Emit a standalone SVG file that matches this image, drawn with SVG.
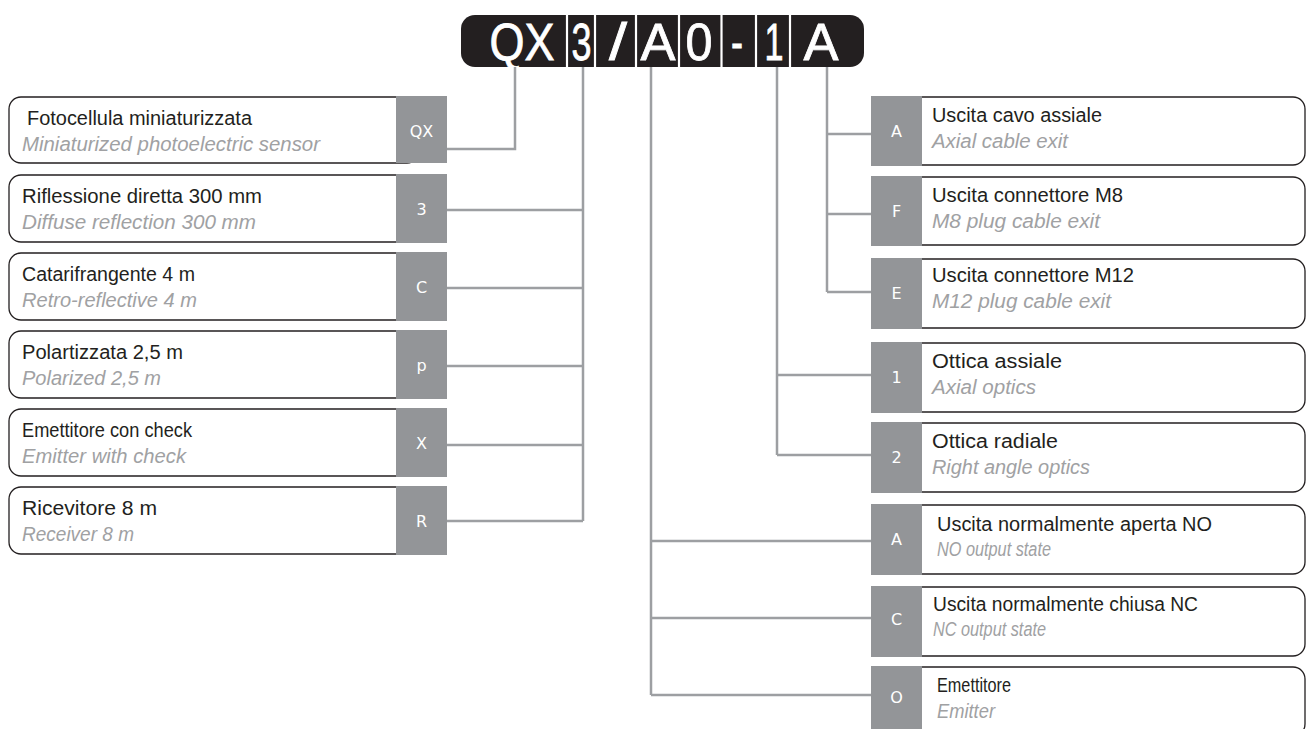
<svg xmlns="http://www.w3.org/2000/svg" width="1306" height="729" viewBox="0 0 1306 729">
<style>
.bg{fill:#ffffff}
.box{fill:#ffffff;stroke:#231f20;stroke-width:1.3}
.sq{fill:#939598}
.sqt{fill:#ffffff;font-family:"DejaVu Sans",sans-serif;font-size:16px;text-anchor:middle}
.t{fill:#231f20;font-family:"Liberation Sans",Arial,sans-serif;font-size:19.5px}
.s{fill:#a0a1a3;font-family:"Liberation Sans",Arial,sans-serif;font-size:19.5px;font-style:italic}
.ln{fill:none;stroke:#9d9fa2;stroke-width:2.5}
.code{fill:#ffffff;stroke:#ffffff;stroke-width:0.8;font-family:"Liberation Sans",Arial,sans-serif;font-size:51px;text-anchor:middle}
.sep{stroke:#ffffff;stroke-width:2.2}
</style>
<rect class="bg" x="0" y="0" width="1306" height="729"/>

<g id="code">
<rect x="461" y="15" width="403" height="52" rx="14" fill="#231f20"/>
<line class="sep" x1="567" y1="15" x2="567" y2="67"/>
<line class="sep" x1="595" y1="15" x2="595" y2="67"/>
<line class="sep" x1="636" y1="15" x2="636" y2="67"/>
<line class="sep" x1="679" y1="15" x2="679" y2="67"/>
<line class="sep" x1="721.5" y1="15" x2="721.5" y2="67"/>
<line class="sep" x1="756" y1="15" x2="756" y2="67"/>
<line class="sep" x1="790" y1="15" x2="790" y2="67"/>
<text class="code" x="522" y="60" textLength="65" lengthAdjust="spacingAndGlyphs">QX</text>
<text class="code" x="581.5" y="60" textLength="20" lengthAdjust="spacingAndGlyphs">3</text>
<text class="code" x="618" y="60" textLength="18" lengthAdjust="spacingAndGlyphs">/</text>
<text class="code" x="658" y="60" textLength="35" lengthAdjust="spacingAndGlyphs">A</text>
<text class="code" x="699" y="60" textLength="27" lengthAdjust="spacingAndGlyphs">0</text>
<text class="code" x="737" y="60" textLength="12" lengthAdjust="spacingAndGlyphs">-</text>
<text class="code" x="774" y="60" textLength="19" lengthAdjust="spacingAndGlyphs">1</text>
<text class="code" x="821" y="60" textLength="35" lengthAdjust="spacingAndGlyphs">A</text>
</g>

<g id="connectors">
<path class="ln" d="M447 149H515V67"/>
<path class="ln" d="M583 67V521"/>
<path class="ln" d="M447 210H583M447 288H583M447 366H583M447 445H583M447 521H583"/>
<path class="ln" d="M651 67V695"/>
<path class="ln" d="M651 541H871M651 618H871M651 695H871"/>
<path class="ln" d="M777 67V455"/>
<path class="ln" d="M777 375H871M777 455H871"/>
<path class="ln" d="M827 67V292"/>
<path class="ln" d="M827 134H871M827 214H871M827 292H871"/>
</g>

<g id="n-qx">
<rect class="box" x="9" y="97" width="410" height="66" rx="12"/>
<rect class="sq" x="396" y="96" width="51" height="67"/>
<text class="sqt" x="421.5" y="137">QX</text>
<text class="t" x="27" y="125" textLength="225" lengthAdjust="spacingAndGlyphs">Fotocellula miniaturizzata</text>
<text class="s" x="22" y="151" textLength="298" lengthAdjust="spacingAndGlyphs">Miniaturized photoelectric sensor</text>
</g>
<g id="n-3">
<rect class="box" x="9" y="175" width="410" height="67" rx="12"/>
<rect class="sq" x="396" y="174" width="51" height="69"/>
<text class="sqt" x="421.5" y="215">3</text>
<text class="t" x="22" y="203" textLength="240" lengthAdjust="spacingAndGlyphs">Riflessione diretta 300 mm</text>
<text class="s" x="22" y="229" textLength="234" lengthAdjust="spacingAndGlyphs">Diffuse reflection 300 mm</text>
</g>
<g id="n-c">
<rect class="box" x="9" y="253" width="410" height="67" rx="12"/>
<rect class="sq" x="396" y="252" width="51" height="69"/>
<text class="sqt" x="421.5" y="293">C</text>
<text class="t" x="22" y="281" textLength="173" lengthAdjust="spacingAndGlyphs">Catarifrangente 4 m</text>
<text class="s" x="22" y="307" textLength="175" lengthAdjust="spacingAndGlyphs">Retro-reflective 4 m</text>
</g>
<g id="n-p">
<rect class="box" x="9" y="331" width="410" height="67" rx="12"/>
<rect class="sq" x="396" y="330" width="51" height="69"/>
<text class="sqt" x="421.5" y="371">p</text>
<text class="t" x="22" y="359" textLength="161" lengthAdjust="spacingAndGlyphs">Polartizzata 2,5 m</text>
<text class="s" x="22" y="385" textLength="139" lengthAdjust="spacingAndGlyphs">Polarized 2,5 m</text>
</g>
<g id="n-x">
<rect class="box" x="9" y="409" width="410" height="67" rx="12"/>
<rect class="sq" x="396" y="408" width="51" height="69"/>
<text class="sqt" x="421.5" y="449">X</text>
<text class="t" x="22" y="437" textLength="170" lengthAdjust="spacingAndGlyphs">Emettitore con check</text>
<text class="s" x="22" y="463" textLength="164" lengthAdjust="spacingAndGlyphs">Emitter with check</text>
</g>
<g id="n-r">
<rect class="box" x="9" y="487" width="410" height="67" rx="12"/>
<rect class="sq" x="396" y="486" width="51" height="69"/>
<text class="sqt" x="421.5" y="527">R</text>
<text class="t" x="22" y="515" textLength="135" lengthAdjust="spacingAndGlyphs">Ricevitore 8 m</text>
<text class="s" x="22" y="541" textLength="112" lengthAdjust="spacingAndGlyphs">Receiver 8 m</text>
</g>

<g id="n-a-cable">
<rect class="box" x="900" y="97" width="405" height="68" rx="12"/>
<rect class="sq" x="871" y="96" width="51" height="70"/>
<text class="sqt" x="896.5" y="137">A</text>
<text class="t" x="932" y="122" textLength="170" lengthAdjust="spacingAndGlyphs">Uscita cavo assiale</text>
<text class="s" x="932" y="148" textLength="136" lengthAdjust="spacingAndGlyphs">Axial cable exit</text>
</g>
<g id="n-f">
<rect class="box" x="900" y="177" width="405" height="68" rx="12"/>
<rect class="sq" x="871" y="176" width="51" height="70"/>
<text class="sqt" x="896.5" y="217">F</text>
<text class="t" x="932" y="202" textLength="191" lengthAdjust="spacingAndGlyphs">Uscita connettore M8</text>
<text class="s" x="932" y="228" textLength="168" lengthAdjust="spacingAndGlyphs">M8 plug cable exit</text>
</g>
<g id="n-e">
<rect class="box" x="900" y="259" width="405" height="69" rx="12"/>
<rect class="sq" x="871" y="258" width="51" height="71"/>
<text class="sqt" x="896.5" y="299">E</text>
<text class="t" x="932" y="282" textLength="202" lengthAdjust="spacingAndGlyphs">Uscita connettore M12</text>
<text class="s" x="932" y="308" textLength="179" lengthAdjust="spacingAndGlyphs">M12 plug cable exit</text>
</g>
<g id="n-1">
<rect class="box" x="900" y="343" width="405" height="69" rx="12"/>
<rect class="sq" x="871" y="342" width="51" height="71"/>
<text class="sqt" x="896.5" y="383">1</text>
<text class="t" x="932" y="368" textLength="130" lengthAdjust="spacingAndGlyphs">Ottica assiale</text>
<text class="s" x="932" y="394" textLength="104" lengthAdjust="spacingAndGlyphs">Axial optics</text>
</g>
<g id="n-2">
<rect class="box" x="900" y="423" width="405" height="69" rx="12"/>
<rect class="sq" x="871" y="422" width="51" height="71"/>
<text class="sqt" x="896.5" y="463">2</text>
<text class="t" x="932" y="448" textLength="126" lengthAdjust="spacingAndGlyphs">Ottica radiale</text>
<text class="s" x="932" y="474" textLength="158" lengthAdjust="spacingAndGlyphs">Right angle optics</text>
</g>
<g id="n-a-no">
<rect class="box" x="900" y="505" width="405" height="69" rx="12"/>
<rect class="sq" x="871" y="504" width="51" height="71"/>
<text class="sqt" x="896.5" y="545">A</text>
<text class="t" x="937" y="531" textLength="275" lengthAdjust="spacingAndGlyphs">Uscita normalmente aperta NO</text>
<text class="s" x="937" y="556" textLength="114" lengthAdjust="spacingAndGlyphs">NO output state</text>
</g>
<g id="n-c-nc">
<rect class="box" x="900" y="587" width="405" height="69" rx="12"/>
<rect class="sq" x="871" y="586" width="51" height="71"/>
<text class="sqt" x="896.5" y="625">C</text>
<text class="t" x="933" y="611" textLength="265" lengthAdjust="spacingAndGlyphs">Uscita normalmente chiusa NC</text>
<text class="s" x="933" y="636" textLength="113" lengthAdjust="spacingAndGlyphs">NC output state</text>
</g>
<g id="n-o">
<rect class="box" x="900" y="667" width="405" height="69" rx="12"/>
<rect class="sq" x="871" y="666" width="51" height="71"/>
<text class="sqt" x="896.5" y="703">O</text>
<text class="t" x="937" y="692" textLength="74" lengthAdjust="spacingAndGlyphs">Emettitore</text>
<text class="s" x="937" y="718" textLength="58" lengthAdjust="spacingAndGlyphs">Emitter</text>
</g>
</svg>
